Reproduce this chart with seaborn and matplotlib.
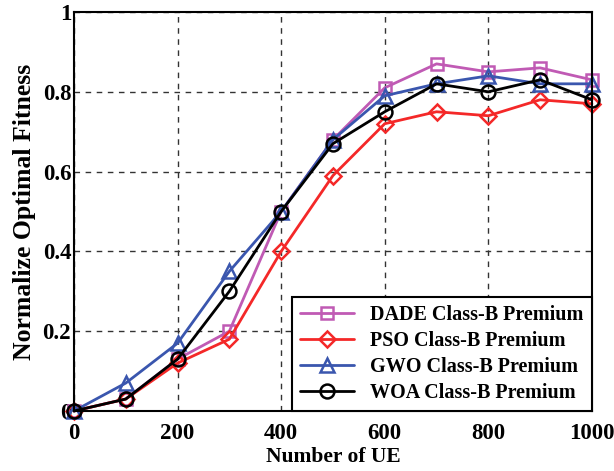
import matplotlib
matplotlib.use("Agg")
import matplotlib.pyplot as plt
import seaborn as sns
import pandas as pd

ue = [0, 100, 200, 300, 400, 500, 600, 700, 800, 900, 1000]
dade = [0.0, 0.03, 0.13, 0.20, 0.50, 0.68, 0.81, 0.87, 0.85, 0.86, 0.83]
pso = [0.0, 0.03, 0.12, 0.18, 0.40, 0.59, 0.72, 0.75, 0.74, 0.78, 0.77]
gwo = [0.0, 0.07, 0.17, 0.35, 0.50, 0.68, 0.79, 0.82, 0.84, 0.82, 0.82]
woa = [0.0, 0.03, 0.13, 0.30, 0.50, 0.67, 0.75, 0.82, 0.80, 0.83, 0.78]
names = ["DADE Class-B Premium", "PSO Class-B Premium",
         "GWO Class-B Premium", "WOA Class-B Premium"]
xticks = [0, 200, 400, 600, 800, 1000]
yticks = [0, 0.2, 0.4, 0.6, 0.8, 1]

sns.set_theme(style="white")
plt.rcParams['font.family'] = ['Liberation Serif', 'DejaVu Serif']
plt.rcParams['font.weight'] = 'bold'
plt.rcParams['text.color'] = 'black'
plt.rcParams['axes.labelcolor'] = 'black'
plt.rcParams['xtick.color'] = 'black'
plt.rcParams['ytick.color'] = 'black'

colors = ["#C05AB4", "#F42828", "#3A56AE", "#000000"]
markers = ["s", "D", "^", "o"]
msizes = [8, 8, 10, 10]

fig = plt.figure(figsize=(6.14, 4.71), dpi=100)
ax = fig.add_axes([0.1205, 0.1274, 0.8435, 0.8471])

for name, vals, c, m, ms in zip(names, [dade, pso, gwo, woa], colors, markers, msizes):
    df = pd.DataFrame({"x": ue, "y": vals})
    sns.lineplot(data=df, x="x", y="y", ax=ax, color=c, marker=m,
                 markersize=ms, markerfacecolor="none", markeredgecolor=c,
                 markeredgewidth=1.8, linewidth=2, label=name, clip_on=False)

ax.set_xlim(0, 1000)
ax.set_ylim(0, 1)
ax.set_xticks(xticks)
ax.set_yticks(yticks)
ax.set_xticklabels([str(t) for t in xticks])
ax.set_yticklabels(["0", "0.2", "0.4", "0.6", "0.8", "1"])
ax.tick_params(direction="in", length=5, width=1, labelsize=16.5,
               colors="black", labelcolor="black")
ax.tick_params(axis="x", pad=9)
ax.tick_params(axis="y", pad=2)
ax.grid(True, linestyle=(0, (4, 4)), color="#333333", linewidth=1)
for s in ax.spines.values():
    s.set_visible(True)
    s.set_color("black")
    s.set_linewidth(1.5)
ax.set_xlabel("Number of UE", fontsize=15.5, fontweight="bold", labelpad=2, color="black")
ax.set_ylabel("Normalize Optimal Fitness", fontsize=18.5, fontweight="bold",
              labelpad=5, color="black")

leg = ax.legend(loc="lower right", frameon=True, fancybox=False,
                borderaxespad=0, handlelength=2.7, labelspacing=0.3,
                prop={"weight": "bold", "size": 14.5})
leg.get_frame().set_edgecolor("black")
leg.get_frame().set_linewidth(1.5)
leg.get_frame().set_alpha(1)
for t in leg.get_texts():
    t.set_color("black")

fig.savefig("out.png", dpi=100)
